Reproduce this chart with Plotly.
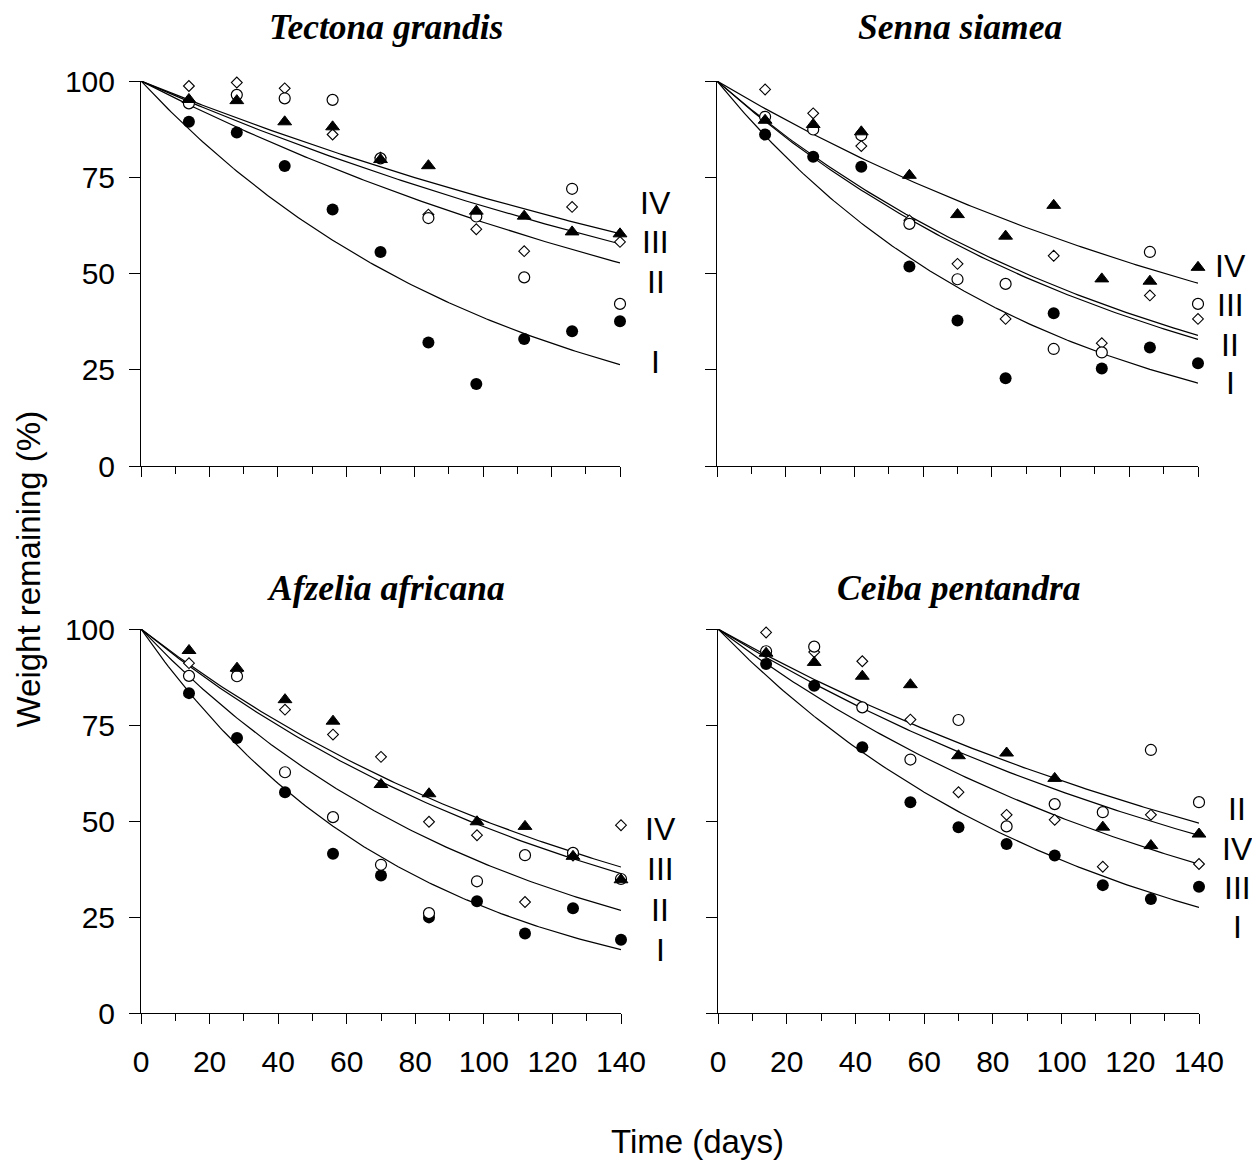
import numpy as np
import plotly.graph_objects as go

# ---------------- data ----------------
species = ["Tectona grandis", "Senna siamea", "Afzelia africana", "Ceiba pentandra"]
days = [14, 28, 42, 56, 70, 84, 98, 112, 126, 140]
treatments = ["I", "II", "III", "IV"]

# Tectona grandis
tg_I = [89.4, 86.6, 77.9, 66.6, 55.6, 32.1, 21.3, 33.0, 35.0, 37.6]
tg_II = [94.2, 96.4, 95.5, 95.1, 79.9, 64.4, 64.8, 49.0, 72.0, 42.1]
tg_III = [98.7, 99.6, 98.1, 86.1, 80.1, 65.3, 61.5, 55.8, 67.3, 58.2]
tg_IV = [95.2, 94.9, 89.4, 88.1, 79.6, 78.0, 66.2, 64.9, 60.8, 60.3]

# Senna siamea
ss_I = [86.1, 80.3, 77.7, 51.8, 37.8, 22.8, 39.7, 25.3, 30.8, 26.7]
ss_II = [90.7, 87.4, 85.9, 62.9, 48.5, 47.3, 30.4, 29.5, 55.6, 42.1]
ss_III = [97.8, 91.6, 83.1, 63.8, 52.5, 38.2, 54.6, 31.9, 44.3, 38.2]
ss_IV = [89.8, 88.7, 86.8, 75.5, 65.3, 59.7, 67.7, 48.6, 48.0, 51.6]

# Afzelia africana
aa_I = [83.3, 71.6, 57.5, 41.5, 35.8, 24.9, 29.1, 20.7, 27.3, 19.1]
aa_II = [87.8, 87.7, 62.7, 51.0, 38.6, 26.0, 34.3, 41.1, 41.7, 34.9]
aa_III = [91.1, 89.0, 79.0, 72.5, 66.7, 49.8, 46.3, 28.9, 41.0, 48.9]
aa_IV = [94.4, 89.8, 81.6, 76.0, 59.5, 57.1, 49.8, 48.6, 40.8, 34.7]

# Ceiba pentandra
cp_I = [90.9, 85.2, 69.2, 54.9, 48.4, 44.0, 41.0, 33.3, 29.7, 32.9]
cp_II = [94.2, 95.4, 79.6, 66.0, 76.3, 48.6, 54.4, 52.3, 68.5, 54.9]
cp_III = [99.1, 94.0, 91.6, 76.4, 57.5, 51.6, 50.3, 38.1, 51.6, 38.8]
cp_IV = [93.7, 91.3, 87.7, 85.5, 67.0, 67.7, 61.1, 48.4, 43.6, 46.6]

# fitted decay constants k (per day), model W = 100*exp(-k t), order I, II, III, IV
k_tg = [0.00953, 0.00457, 0.00393, 0.00361]
k_ss = [0.01097, 0.00794, 0.00772, 0.00532]
k_aa = [0.01287, 0.00943, 0.00724, 0.00691]
k_cp = [0.00922, 0.00503, 0.00677, 0.00551]

x_ticks = [0, 20, 40, 60, 80, 100, 120, 140]
y_ticks = [0, 25, 50, 75, 100]

obs = [
    [tg_I, tg_II, tg_III, tg_IV],
    [ss_I, ss_II, ss_III, ss_IV],
    [aa_I, aa_II, aa_III, aa_IV],
    [cp_I, cp_II, cp_III, cp_IV],
]
rates = [k_tg, k_ss, k_aa, k_cp]

# ---------------- layout constants ----------------
PAGE_W, PAGE_H = 1260, 1162
OFF = 8                       # default page body margin
W, H = PAGE_W - OFF, PAGE_H - OFF


def px_x(px):
    return (px - OFF) / W


def px_y(py):
    return 1 - (py - OFF) / H


px_dom = [  # (x0, x1, ytop, ybottom) in page pixels
    (141, 620, 81, 466),
    (717, 1198, 81, 466),
    (141, 621, 629, 1013),
    (718, 1199, 629, 1013),
]
title_pos = [(386, 27), (960, 27), (386, 588), (959, 588)]
label_pos = [  # (x pixel centre, y pixel centres for I, II, III, IV)
    (656, [362, 282, 242, 203]),
    (1230, [383, 345, 305, 266]),
    (660, [950, 910, 869, 829]),
    (1237, [927, 809, 888, 849]),
]

marker_style = {
    "I": dict(symbol="circle", size=12, color="black", line=dict(color="black", width=0)),
    "II": dict(symbol="circle", size=11, color="white", line=dict(color="black", width=1.2)),
    "III": dict(symbol="diamond", size=8.3, color="white", line=dict(color="black", width=1.1)),
    "IV": dict(symbol="triangle-up", size=12, color="black", line=dict(color="black", width=1)),
}
draw_order = ["I", "III", "II", "IV"]

FONT = "Arial, Liberation Sans, sans-serif"
SERIF = "Times New Roman, Liberation Serif, serif"

fig = go.Figure()
t_fit = np.linspace(0, 140, 141)

for p in range(4):
    xa = "x" if p == 0 else f"x{p+1}"
    ya = "y" if p == 0 else f"y{p+1}"
    # fitted curves
    for j, tr in enumerate(treatments):
        fig.add_trace(go.Scatter(
            x=t_fit, y=100 * np.exp(-rates[p][j] * t_fit), mode="lines",
            line=dict(color="black", width=1.2), xaxis=xa, yaxis=ya,
            showlegend=False, hoverinfo="skip", cliponaxis=False))
    # observed points
    for tr in draw_order:
        j = treatments.index(tr)
        fig.add_trace(go.Scatter(
            x=days, y=obs[p][j], mode="markers", marker=marker_style[tr],
            xaxis=xa, yaxis=ya, showlegend=False, cliponaxis=False,
            name=f"{species[p]} {tr}"))

    x0, x1, yt, yb = px_dom[p]
    bottom = p >= 2
    left = p % 2 == 0
    xkey = "xaxis" if p == 0 else f"xaxis{p+1}"
    ykey = "yaxis" if p == 0 else f"yaxis{p+1}"
    fig.update_layout(**{
        xkey: dict(
            domain=[px_x(x0), px_x(x1)], range=[0, 140], anchor=ya,
            showline=True, linecolor="black", linewidth=1, showgrid=False, zeroline=False,
            ticks="outside", tickvals=x_ticks, ticklen=10, tickwidth=1, tickcolor="black",
            minor=dict(ticks="outside", tick0=0, dtick=10, ticklen=7, tickwidth=1, tickcolor="black"),
            showticklabels=bottom, tickfont=dict(family=FONT, size=30, color="black"),
            ticklabelstandoff=12, automargin=False,
        ),
        ykey: dict(
            domain=[px_y(yb), px_y(yt)], range=[0, 100], anchor=xa,
            showline=True, linecolor="black", linewidth=1, showgrid=False, zeroline=False,
            ticks="outside", tickvals=y_ticks, ticklen=11, tickwidth=1, tickcolor="black",
            showticklabels=left, tickfont=dict(family=FONT, size=30, color="black"),
            ticklabelstandoff=8, automargin=False,
        ),
    })

annotations = []
for p in range(4):
    tx, ty = title_pos[p]
    annotations.append(dict(
        x=px_x(tx), y=px_y(ty), xref="paper", yref="paper", showarrow=False,
        text=f"<b><i>{species[p]}</i></b>", font=dict(family=SERIF, size=35.5, color="black"),
        xanchor="center", yanchor="middle"))
    lx, lys = label_pos[p]
    for tr, ly in zip(treatments, lys):
        annotations.append(dict(
            x=px_x(lx), y=px_y(ly), xref="paper", yref="paper", showarrow=False, text=tr,
            font=dict(family=FONT, size=32, color="black"),
            xanchor="center", yanchor="middle"))

annotations.append(dict(
    x=px_x(27.5), y=px_y(569), xref="paper", yref="paper", showarrow=False,
    text="Weight remaining (%)", textangle=-90,
    font=dict(family=FONT, size=33, color="black"), xanchor="center", yanchor="middle"))
annotations.append(dict(
    x=px_x(697), y=px_y(1141), xref="paper", yref="paper", showarrow=False,
    text="Time (days)", font=dict(family=FONT, size=33, color="black"),
    xanchor="center", yanchor="middle"))

fig.update_layout(
    width=W, height=H, margin=dict(l=0, r=0, t=0, b=0, pad=0, autoexpand=False),
    paper_bgcolor="white", plot_bgcolor="white", showlegend=False,
    annotations=annotations,
)

fig.write_html("out.html")
